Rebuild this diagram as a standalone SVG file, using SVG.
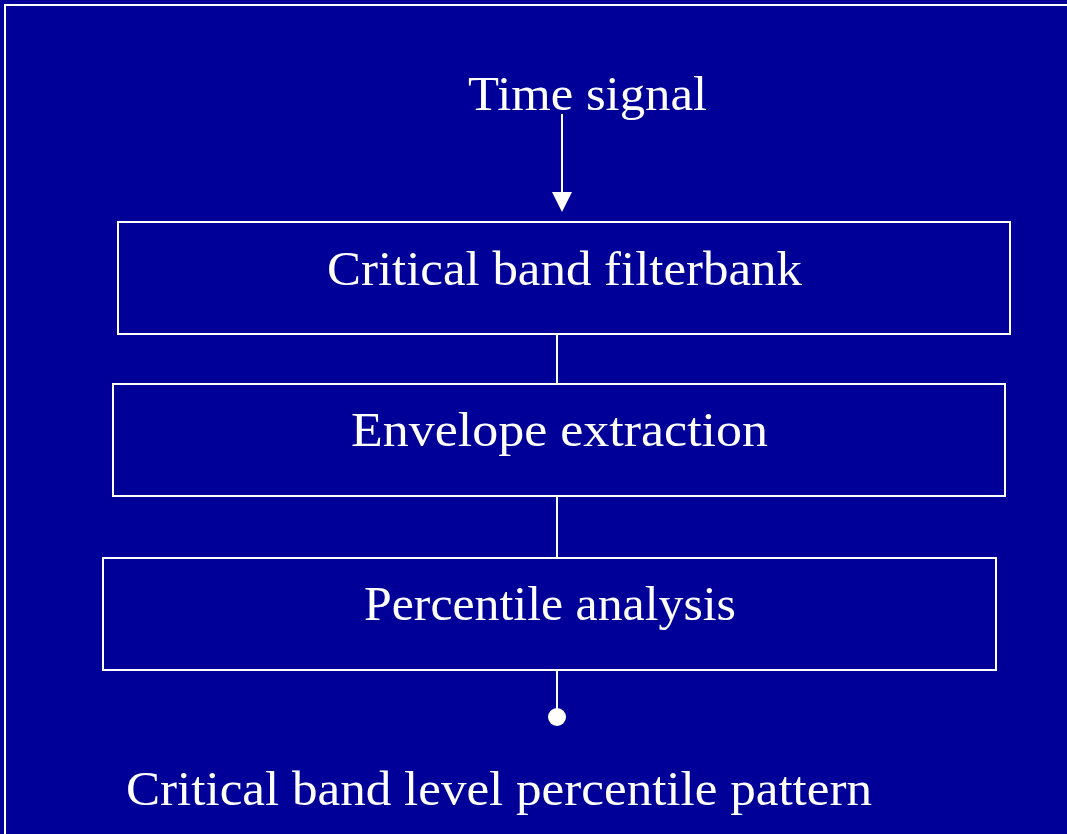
<svg xmlns="http://www.w3.org/2000/svg" width="1067" height="834" viewBox="0 0 1067 834">
<style>
.box{fill:none;stroke:#ffffff;stroke-width:2}
.lbl{font-family:"Liberation Serif",serif;font-size:48px;fill:#ffffff}
.conn{stroke:#ffffff;stroke-width:2;fill:none}
</style>
<defs>
<marker id="arr" markerWidth="10" markerHeight="10" refX="10" refY="5" orient="auto" markerUnits="userSpaceOnUse" viewBox="0 0 10 10">
<path d="M0,0 L10,5 L0,10 Z" fill="#ffffff"/>
</marker>
</defs>
<rect x="0" y="0" width="1067" height="834" fill="#000099"/>
<path d="M5,834 L5,5 L1067,5" class="conn"/>
<g id="time-signal"><text class="lbl" x="468" y="110" textLength="239" lengthAdjust="spacingAndGlyphs">Time signal</text></g>
<g id="filterbank"><rect class="box" x="118" y="222" width="892" height="112"/><text class="lbl" x="327" y="285" textLength="475" lengthAdjust="spacingAndGlyphs">Critical band filterbank</text></g>
<g id="envelope"><rect class="box" x="113" y="384" width="892" height="112"/><text class="lbl" x="351" y="446" textLength="417" lengthAdjust="spacingAndGlyphs">Envelope extraction</text></g>
<g id="percentile"><rect class="box" x="103" y="558" width="893" height="112"/><text class="lbl" x="364" y="620" textLength="372" lengthAdjust="spacingAndGlyphs">Percentile analysis</text></g>
<g id="output"><circle cx="557" cy="717" r="9" fill="#ffffff"/><text class="lbl" x="126" y="805" textLength="746" lengthAdjust="spacingAndGlyphs">Critical band level percentile pattern</text></g>
<g id="connectors">
<line class="conn" x1="562" y1="114" x2="562" y2="194"/>
<path d="M552,192 L572,192 L562,212 Z" fill="#ffffff"/>
<line class="conn" x1="557" y1="335" x2="557" y2="384"/>
<line class="conn" x1="557" y1="497" x2="557" y2="558"/>
<line class="conn" x1="557" y1="671" x2="557" y2="710"/>
</g>
</svg>
